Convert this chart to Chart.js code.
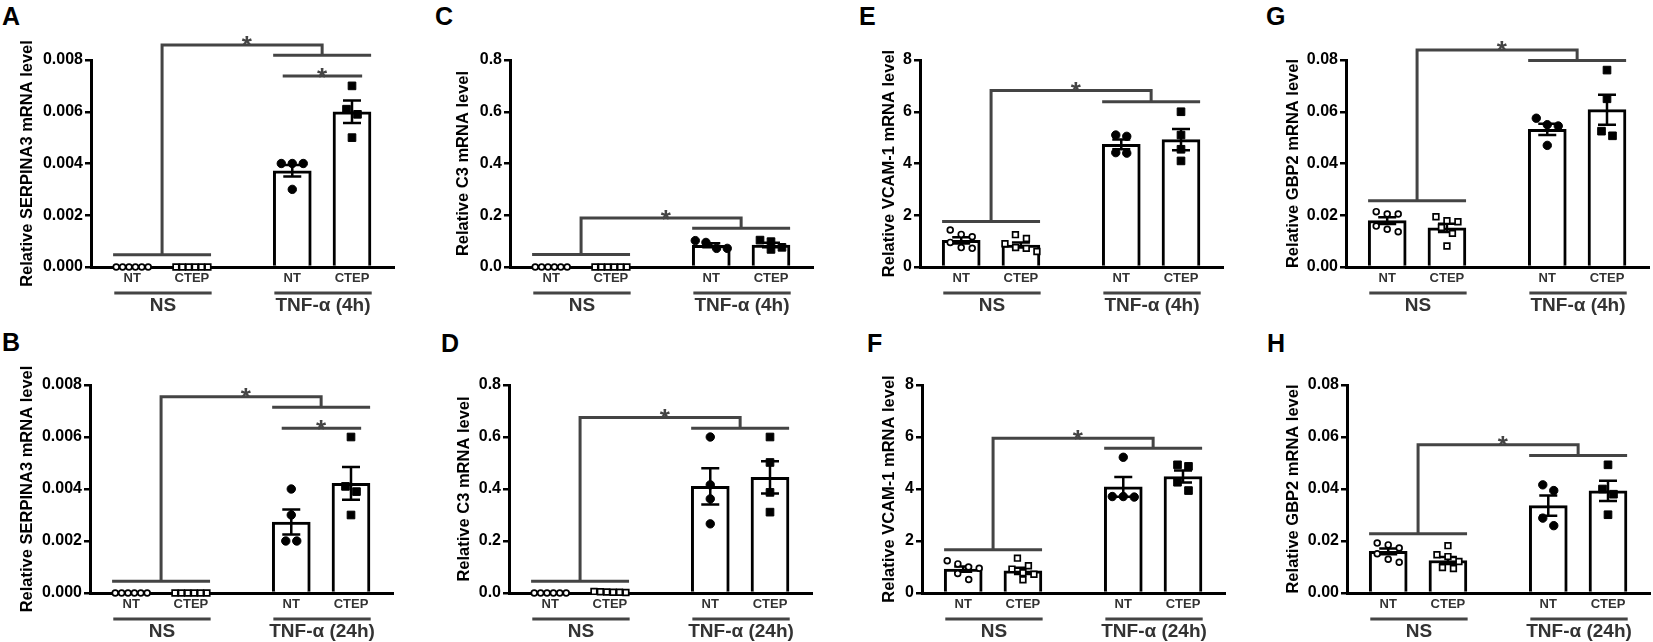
<!DOCTYPE html>
<html>
<head>
<meta charset="utf-8">
<title>Relative mRNA levels</title>
<script src="https://cdn.jsdelivr.net/npm/chart.js@4.4.1/dist/chart.umd.min.js"></script>
<style>
  html, body { margin: 0; padding: 0; background: #fff; }
  #fig { position: relative; width: 1653px; height: 642px; overflow: hidden; }
  .letter { position: absolute; font: bold 25px/25px "Liberation Sans", Arial, sans-serif; color: #000; }
  canvas { position: absolute; }
</style>
</head>
<body>
<div id="fig"></div>
<script>
const FONT = "'Liberation Sans', Arial, sans-serif";
Chart.defaults.font.family = FONT;

// two groups of two bars on a linear x axis
const groupTicks = ['NT', 'CTEP', 'NT', 'CTEP'];
const groupPos = [0, 1, 2.68, 3.68];

// panels in order A..H (A,C,E,G top row / B,D,F,H bottom row)
const panelLetters = ['A', 'B', 'C', 'D', 'E', 'F', 'G', 'H'];
const yTitles = [
  'Relative SERPINA3 mRNA level', 'Relative SERPINA3 mRNA level',
  'Relative C3 mRNA level', 'Relative C3 mRNA level',
  'Relative VCAM-1 mRNA level', 'Relative VCAM-1 mRNA level',
  'Relative GBP2 mRNA level', 'Relative GBP2 mRNA level'
];
const stimLabels = ['TNF-α (4h)', 'TNF-α (24h)', 'TNF-α (4h)', 'TNF-α (24h)',
                    'TNF-α (4h)', 'TNF-α (24h)', 'TNF-α (4h)', 'TNF-α (24h)'];

const serpinaTicks = ['0.000', '0.002', '0.004', '0.006', '0.008'];
const c3Ticks = ['0.0', '0.2', '0.4', '0.6', '0.8'];
const vcamTicks = ['0', '2', '4', '6', '8'];
const gbpTicks = ['0.00', '0.02', '0.04', '0.06', '0.08'];
const yTickLabels = [serpinaTicks, serpinaTicks, c3Ticks, c3Ticks, vcamTicks, vcamTicks, gbpTicks, gbpTicks];

// bar heights (mean) and SEM per group: NS-NT, NS-CTEP, TNF-NT, TNF-CTEP
const barMeans = [
  [0, 0, 0.00372, 0.0060],
  [0, 0, 0.00273, 0.00422],
  [0, 0, 0.084, 0.085],
  [0, 0.004, 0.41, 0.445],
  [1.03, 0.85, 4.74, 4.92],
  [0.92, 0.85, 4.08, 4.48],
  [0.0179, 0.0151, 0.0532, 0.0608],
  [0.0160, 0.0125, 0.0336, 0.0393]
];
const barSems = [
  [0, 0, 0.00022, 0.00043],
  [0, 0, 0.00048, 0.00063],
  [0, 0, 0.008, 0.009],
  [0, 0, 0.07, 0.062],
  [0.12, 0.1, 0.19, 0.41],
  [0.1, 0.12, 0.38, 0.23],
  [0.0013, 0.0016, 0.0022, 0.0058],
  [0.0011, 0.0013, 0.0039, 0.0039]
];

// individual replicates
const dotValues = [
  [[0, 0, 0, 0, 0, 0], [0, 0, 0, 0, 0, 0], [0.0040, 0.0040, 0.0040, 0.0030], [0.0070, 0.0061, 0.0059, 0.0050]],
  [[0, 0, 0, 0, 0, 0], [0, 0, 0, 0, 0, 0], [0.0040, 0.0030, 0.0020, 0.0020], [0.0060, 0.0041, 0.0039, 0.0030]],
  [[0, 0, 0, 0, 0, 0], [0, 0, 0, 0, 0, 0], [0.102, 0.095, 0.072, 0.072], [0.104, 0.098, 0.076, 0.068]],
  [[0, 0, 0, 0, 0, 0], [0.006, 0.005, 0.004, 0.003, 0.003, 0.002], [0.60, 0.416, 0.362, 0.266], [0.60, 0.502, 0.387, 0.311]],
  [[1.43, 1.26, 1.17, 0.95, 0.75, 0.72], [1.25, 1.1, 0.9, 0.75, 0.72, 0.6], [5.1, 5.05, 4.42, 4.4], [6.0, 5.1, 4.55, 4.1]],
  [[1.24, 1.12, 1.0, 0.95, 0.75, 0.52], [1.34, 1.05, 0.92, 0.78, 0.72, 0.51], [5.22, 3.71, 3.71, 3.69], [4.93, 4.87, 4.26, 3.94]],
  [[0.0214, 0.0205, 0.0205, 0.0158, 0.0146, 0.0136], [0.0194, 0.0179, 0.0175, 0.0153, 0.0130, 0.0081],
   [0.0575, 0.0550, 0.0545, 0.0470], [0.0761, 0.0650, 0.0525, 0.0507]],
  [[0.0192, 0.0185, 0.0173, 0.0151, 0.0130, 0.0118], [0.0182, 0.0147, 0.0140, 0.0121, 0.0098, 0.0094],
   [0.0416, 0.0394, 0.0288, 0.0259], [0.0493, 0.0400, 0.0380, 0.0301]]
];

// significance brackets: NS line, TNF line, top of bracket, NT-vs-CTEP line (or null)
const bracketLevels = [
  [0.00047, 0.00818, 0.00858, 0.00738],
  [0.00045, 0.00714, 0.00755, 0.00634],
  [0.048, 0.150, 0.189, null],
  [0.045, 0.634, 0.675, null],
  [1.76, 6.39, 6.82, null],
  [1.66, 5.57, 5.95, null],
  [0.0256, 0.0798, 0.0839, null],
  [0.0228, 0.0529, 0.0570, null]
];

// screen geometry (px)
const axisLeft = [91, 90, 510, 509, 920, 922, 1346, 1347];
const titleMid = [27.5, 27.5, 464, 465, 889.5, 889.5, 1293.5, 1293.5];
const letterAt = [[2, 7], [2, 333], [435, 7], [441, 334], [859, 7], [867, 334], [1266, 7], [1267, 334]];
const rowBox = [
  { top: 0, height: 320, padTop: 60, xHeight: 53 },
  { top: 320, height: 322, padTop: 65, xHeight: 49 }
];
const X_MIN = -0.69, X_MAX = 4.4, PX_PER_X = 59.8, PLOT_H = 207;

const dotStyle = [
  { style: 'circle', r: 2.9, fill: '#fff', bw: 1.7 },
  { style: 'rect', r: 4.0, fill: '#fff', bw: 1.7 },
  { style: 'circle', r: 4.2, fill: '#000', bw: 1 },
  { style: 'rect', r: 5.4, fill: '#000', bw: 1 }
];

// spread replicates sideways when they would overlap (like a column scatter)
function spread(values, center, pxPerY) {
  const sorted = [...values].sort((a, b) => b - a);
  const out = [];
  let i = 0;
  while (i < sorted.length) {
    let j = i + 1;
    while (j < sorted.length && (sorted[i] - sorted[j]) * pxPerY < 9) j++;
    const n = j - i;
    const step = n > 1 ? Math.min(11, 32 / (n - 1)) : 0;
    for (let k = 0; k < n; k++) {
      out.push({ x: center + (k - (n - 1) / 2) * step / PX_PER_X, y: sorted[i + k] });
    }
    i = j;
  }
  return out;
}

function marks(i) {
  return {
    id: 'marks' + i,
    afterDatasetDraw(chart, args) {
      if (args.index !== 0) return;
      const { ctx, scales: { x, y } } = chart;
      ctx.save();
      ctx.strokeStyle = '#000';
      ctx.lineWidth = 2.5;
      barSems[i].forEach((s, k) => {
        if (!s) return;
        const cx = x.getPixelForValue(groupPos[k]);
        const hi = y.getPixelForValue(barMeans[i][k] + s);
        const lo = y.getPixelForValue(barMeans[i][k] - s);
        ctx.beginPath();
        ctx.moveTo(cx, hi); ctx.lineTo(cx, lo);
        ctx.moveTo(cx - 9, hi); ctx.lineTo(cx + 9, hi);
        ctx.moveTo(cx - 9, lo); ctx.lineTo(cx + 9, lo);
        ctx.stroke();
      });
      ctx.restore();
    },
    afterDraw(chart) {
      const { ctx, chartArea, scales: { x, y } } = chart;
      const [ns, tnf, top, pair] = bracketLevels[i];
      const path = pts => {
        ctx.beginPath();
        pts.forEach(([vx, vy], k) => {
          const px = x.getPixelForValue(vx), py = y.getPixelForValue(vy);
          if (k) ctx.lineTo(px, py); else ctx.moveTo(px, py);
        });
        ctx.stroke();
      };
      const star = (vx, vy) => {
        ctx.font = 'bold 26px ' + FONT;
        ctx.textAlign = 'center';
        ctx.textBaseline = 'alphabetic';
        ctx.fillText('*', x.getPixelForValue(vx), y.getPixelForValue(vy) - 5 + 14.5);
      };
      ctx.save();
      ctx.strokeStyle = '#444';
      ctx.fillStyle = '#444';
      ctx.lineWidth = 3;
      path([[-0.32, ns], [1.32, ns]]);
      path([[0.5, ns], [0.5, top], [3.18, top], [3.18, tnf]]);
      path([[2.36, tnf], [4.0, tnf]]);
      star(1.92, top);
      if (pair !== null) {
        path([[2.52, pair], [3.85, pair]]);
        star(3.18, pair);
      }

      // treatment groups under the axis
      const gy = chartArea.bottom + 26;
      const under = [[-0.3, 1.33, 'NS'], [2.38, 4.01, stimLabels[i]]];
      ctx.fillStyle = '#333';
      ctx.font = 'bold 19px ' + FONT;
      ctx.textAlign = 'center';
      ctx.textBaseline = 'middle';
      under.forEach(([a, b, label]) => {
        const xa = x.getPixelForValue(a), xb = x.getPixelForValue(b);
        ctx.beginPath();
        ctx.moveTo(xa, gy); ctx.lineTo(xb, gy);
        ctx.stroke();
        ctx.fillText(label, (xa + xb) / 2, gy + 13);
      });
      ctx.restore();
    }
  };
}

const fig = document.getElementById('fig');

panelLetters.forEach((letter, i) => {
  const row = rowBox[i % 2];
  const left = Math.round(titleMid[i] - 9.9);
  const yWidth = axisLeft[i] - left;
  const width = Math.round(yWidth + PX_PER_X * (X_MAX - X_MIN));
  const yMax = Number(yTickLabels[i][yTickLabels[i].length - 1]);

  const tag = document.createElement('div');
  tag.className = 'letter';
  tag.textContent = letter;
  tag.style.left = letterAt[i][0] + 'px';
  tag.style.top = (letterAt[i][1] - 3.3) + 'px';
  fig.appendChild(tag);

  const canvas = document.createElement('canvas');
  canvas.width = width;
  canvas.height = row.height;
  canvas.style.left = left + 'px';
  canvas.style.top = row.top + 'px';
  canvas.style.width = width + 'px';
  canvas.style.height = row.height + 'px';
  fig.appendChild(canvas);

  const datasets = [{
    type: 'bar',
    order: 2,
    data: groupPos.map((gx, k) => ({ x: gx, y: barMeans[i][k] })),
    backgroundColor: '#fff',
    borderColor: '#000',
    borderWidth: 3,
    borderSkipped: 'start',
    barThickness: 38
  }];
  dotValues[i].forEach((vals, k) => {
    const st = dotStyle[k];
    datasets.push({
      type: 'scatter',
      order: 1,
      clip: false,
      data: spread(vals, groupPos[k], PLOT_H / yMax),
      pointStyle: st.style,
      pointRadius: st.r,
      pointBackgroundColor: st.fill,
      pointBorderColor: '#000',
      pointBorderWidth: st.bw
    });
  });

  new Chart(canvas, {
    type: 'bar',
    data: { datasets },
    options: {
      responsive: false,
      animation: false,
      layout: { autoPadding: false, padding: { top: row.padTop, left: 0, right: 0, bottom: 0 } },
      plugins: { legend: { display: false }, tooltip: { enabled: false } },
      scales: {
        x: {
          type: 'linear',
          min: X_MIN,
          max: X_MAX,
          offset: false,
          afterBuildTicks: s => { s.ticks = groupPos.map(v => ({ value: v })); },
          afterFit: s => { s.height = row.xHeight; },
          ticks: {
            autoSkip: false,
            maxRotation: 0,
            padding: 4,
            color: '#333',
            font: { size: 13, weight: 'bold' },
            callback: (v, idx) => groupTicks[idx]
          },
          grid: { display: false, drawTicks: false },
          border: { display: true, color: '#000', width: 3 }
        },
        y: {
          min: 0,
          max: yMax,
          afterBuildTicks: s => { s.ticks = yTickLabels[i].map(t => ({ value: Number(t) })); },
          afterFit: s => { s.width = yWidth; },
          ticks: {
            padding: 2,
            color: '#000',
            font: { size: 16, weight: 'bold' },
            callback: (v, idx) => yTickLabels[i][idx]
          },
          grid: { display: true, drawOnChartArea: false, drawTicks: true, tickLength: 6, color: '#000', lineWidth: 2.5 },
          border: { display: true, color: '#000', width: 3 },
          title: {
            display: true,
            text: yTitles[i],
            color: '#000',
            padding: 0,
            font: { size: 16.5, weight: 'bold' }
          }
        }
      }
    },
    plugins: [marks(i)]
  });
});
</script>
</body>
</html>
